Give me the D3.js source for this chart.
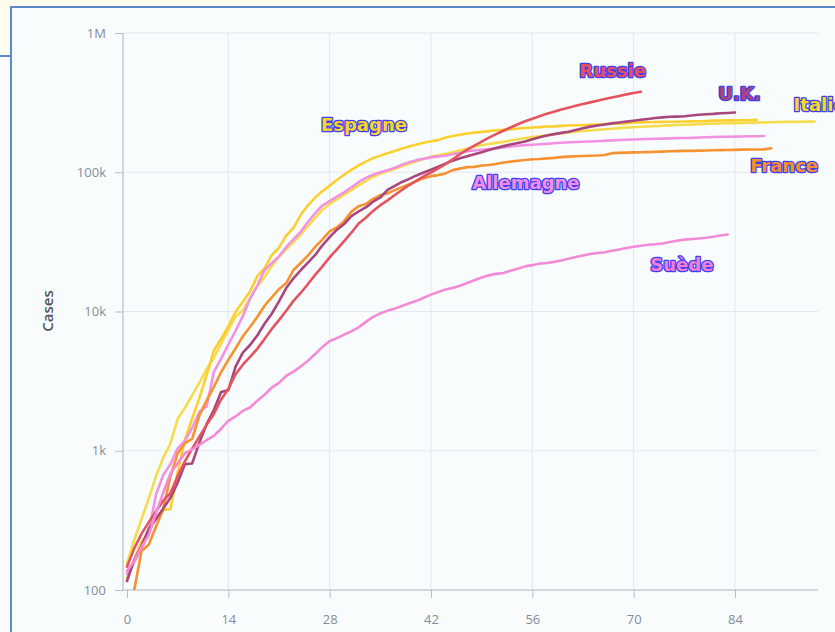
<!DOCTYPE html>
<html><head><meta charset="utf-8">
<script src="https://cdn.jsdelivr.net/npm/d3@7"></script>
<style>
html,body{margin:0;padding:0;background:#f8fcfd;}
svg{display:block;}
</style></head><body>
<svg id="c" width="835" height="632"></svg>
<script>
// Cumulative cases, index = days since ~100th case
const italy = [155,229,322,453,655,888,1128,1694,2036,2502,3089,3858,4636,5883,7375,9172,10149,12462,15113,17660,21157,24747,27980,31506,35713,41035,47021,53578,59138,63927,69176,74386,80589,86498,92472,97689,101739,105792,110574,115242,119827,124632,128948,132547,135586,139422,143626,147577,152271,156363,159516,162488,165155,168941,172434,175925,178972,181228,183957,187327,189973,192994,195351,197675,199414,201505,203591,205463,207428,209328,210717,211938,213013,214457,215858,217185,218268,219070,219814,221216,222104,223096,223885,224760,225435,225886,226699,227364,228006,228658,229327,229858,230158,230555,231139,231732];
const spain = [120,165,222,259,330,376,380,700,1200,1700,2400,3500,5232,6391,7798,9942,11748,13910,17963,20410,25374,28768,35136,39885,49515,57786,65719,73235,80110,87956,95923,104118,112065,119199,126168,131646,136675,141942,148220,153222,158273,163027,166831,170099,177644,182000,186000,190000,192500,195000,197500,200000,201500,202990,205905,207634,209465,210773,212917,213435,215216,216582,217466,218011,219329,220325,221447,222857,223578,224350,227436,228030,228691,229540,230183,230698,230698,231350,232037,232555,233037,234824,235290,235772,235900,236259,236259,237906];
const germany = [130,159,196,262,482,670,799,1040,1176,1457,1908,2078,3675,4585,5795,7272,9257,12327,15320,19848,22213,24873,29056,32986,37323,43938,50871,57695,62095,66885,71808,77872,84794,91159,96092,100123,103374,107663,113296,118181,122171,124908,127854,130072,131359,134753,137698,141397,143342,145184,147065,148291,150648,153129,154999,156513,157770,158758,159912,161539,163009,164077,164967,165664,166152,167007,168162,169430,170588,171324,171879,172576,173171,174098,174478,175233,175752,176369,176551,177778,178473,179021,179710,179986,180328,180600,181200,181524,182196];
const france = [57,100,190,212,285,380,656,957,1134,1217,1794,2293,2876,3661,4499,5423,6633,7730,9134,10995,12612,14459,16018,19856,22302,25233,29155,32964,37575,40174,44550,52128,56989,59105,64338,68605,70478,74390,78167,82048,86334,90676,93790,95403,98076,103573,106206,108847,109252,111821,112606,114657,117324,119151,120804,122577,124114,124575,125770,126835,128442,129581,130185,130979,131287,131863,132967,137150,137779,138421,138854,139063,139519,140227,140734,141356,141919,142291,142411,142903,143427,143845,144163,144556,144806,145279,145555,145746,146000,148700];
const uk = [116,164,207,274,322,384,459,590,802,810,1144,1551,1960,2642,2716,4014,5067,5745,6726,8164,9640,11812,14745,17312,19780,22453,25481,29865,34173,38689,42477,48436,52279,55949,61474,65872,74605,79874,85206,89570,94845,99483,104145,109769,115314,121172,125856,130172,134638,139246,144640,149569,154037,158348,162350,166441,172481,178685,183500,187842,191832,195524,201101,206715,212629,216525,220449,224332,227741,230985,234440,238004,241461,244995,247709,250138,250908,252246,255544,258504,261184,262547,265227,266599,268619];
const russia = [147,199,253,306,367,438,495,658,840,1036,1264,1534,1836,2337,2777,3548,4149,4731,5389,6343,7497,8672,10131,11917,13584,15770,18328,21102,24490,27938,32008,36793,42853,47121,52763,57999,62773,68622,74588,80949,87147,93558,99399,106498,114431,124054,134686,145268,155370,165929,177160,187859,198676,209688,221344,232243,242271,252245,262843,272043,281752,290678,299941,308705,317554,326448,335882,344481,353427,362342,370680,379051];
const sweden = [137,161,203,248,355,500,687,814,961,1022,1103,1190,1279,1439,1639,1763,1934,2046,2286,2526,2840,3069,3447,3700,4028,4435,4947,5568,6131,6443,6830,7206,7693,8419,9141,9685,10151,10483,10948,11445,11927,12540,13216,13822,14385,14777,15322,16004,16755,17567,18177,18640,18926,19621,20302,21092,21520,22082,22317,22721,23216,23918,24623,25265,25921,26322,26670,27272,27909,28582,29207,29677,30143,30377,30799,31523,32172,32809,33188,33459,33843,34440,35088,35727];

const xTicks = [0,14,28,42,56,70,84];
const yTicks = [100,1000,10000,100000,1000000];
const yTickLabels = ["100","1k","10k","100k","1M"];

const seriesNames = ["Italie","Espagne","Allemagne","France","U.K.","Russie","Suède"];
const seriesValues = [italy, spain, germany, france, uk, russia, sweden];
const seriesColors = ["#f6dc4c","#fbd02e","#f291e0","#f79230","#a8467d","#e4545e","#f28ad7"];
const labelFill = ["#f5d92c","#f8d32c","#f08ee6","#f7902c","#a8467e","#e8505a","#f07fd8"];
// label anchor in data coords [day, cases]
const labelAnchor = [[92.1,275000],[26.8,198000],[47.7,75800],[86.1,100400],[81.7,331000],[62.5,483000],[72.3,19500]];

const svg = d3.select("#c");
const W = 835, H = 632;
const plotL = 123, plotR = 818, plotT = 33, plotB = 590;

// frame
svg.append("rect").attr("x",0).attr("y",0).attr("width",W).attr("height",H).attr("fill","#f8fcfd");
svg.append("rect").attr("x",0).attr("y",0).attr("width",W).attr("height",7).attr("fill","#fefcef");
svg.append("rect").attr("x",0).attr("y",0).attr("width",10).attr("height",56).attr("fill","#fefcef");
svg.append("rect").attr("x",10).attr("y",6).attr("width",W-10).attr("height",2).attr("fill","#5a8ac8");
svg.append("rect").attr("x",10).attr("y",6).attr("width",2).attr("height",H-6).attr("fill","#5a8ac8");
svg.append("rect").attr("x",0).attr("y",55).attr("width",11).attr("height",2).attr("fill","#5a8ac8");

const x = d3.scaleLinear().domain([0, 95.4]).range([127, 817.5]);
const y = d3.scaleLog().domain([100, 1000000]).range([plotB, plotT]);

// grid
const grid = svg.append("g");
grid.selectAll("line.h").data(yTicks).join("line")
  .attr("x1",plotL).attr("x2",plotR).attr("y1",d=>y(d)).attr("y2",d=>y(d))
  .attr("stroke","#e3e8ef").attr("stroke-width",1);
grid.selectAll("line.v").data(xTicks.filter(d=>d>0)).join("line")
  .attr("x1",d=>x(d)).attr("x2",d=>x(d)).attr("y1",plotT).attr("y2",plotB)
  .attr("stroke","#e3e8ef").attr("stroke-width",1);

// axes
const yAxis = svg.append("g").attr("transform",`translate(${plotL},0)`)
  .call(d3.axisLeft(y).tickValues(yTicks).tickFormat((d,i)=>yTickLabels[i]).tickSize(8).tickSizeOuter(0).tickPadding(9));
const xAxis = svg.append("g").attr("transform",`translate(0,${plotB})`)
  .call(d3.axisBottom(x).tickValues(xTicks).tickSize(8).tickSizeOuter(0).tickPadding(17));
[yAxis,xAxis].forEach(g=>{
  g.select(".domain").remove();
  g.selectAll(".tick line").attr("stroke","#b9bdc3");
  g.selectAll(".tick text").attr("fill","#868c96").style("font-family","'Open Sans', sans-serif").style("font-size","13px");
});
svg.append("line").attr("x1",plotL).attr("x2",plotL).attr("y1",plotT).attr("y2",plotB).attr("stroke","#b9bdc3").attr("stroke-width",1.2);
svg.append("line").attr("x1",plotL).attr("x2",plotR).attr("y1",plotB).attr("y2",plotB).attr("stroke","#b9bdc3").attr("stroke-width",1.2);

svg.append("text").attr("transform","translate(53,311) rotate(-90)")
  .attr("text-anchor","middle").attr("fill","#50565f")
  .style("font-family","'Open Sans', sans-serif").style("font-size","15px").style("font-weight","600")
  .text("Cases");

// lines
svg.append("clipPath").attr("id","clip").append("rect")
  .attr("x",plotL).attr("y",plotT).attr("width",plotR-plotL).attr("height",plotB-plotT);
const line = d3.line().x((d,i)=>x(i)).y(d=>y(d));
const lines = svg.append("g").attr("clip-path","url(#clip)");
seriesValues.forEach((vals,k)=>{
  lines.append("path").datum(vals).attr("d",line)
    .attr("fill","none").attr("stroke",seriesColors[k]).attr("stroke-width",2.6)
    .attr("stroke-linejoin","round").attr("stroke-linecap","round");
});

// labels
const lab = svg.append("g");
seriesNames.forEach((name,k)=>{
  lab.append("text").attr("x",x(labelAnchor[k][0])).attr("y",y(labelAnchor[k][1]))
    .attr("fill",labelFill[k]).attr("stroke","#3e3ef2").attr("stroke-width",2.6)
    .attr("paint-order","stroke").attr("stroke-linejoin","round")
    .style("font-family","'DejaVu Sans', sans-serif").style("font-size","18px").style("font-weight","bold")
    .text(name);
});
</script>
</body></html>
